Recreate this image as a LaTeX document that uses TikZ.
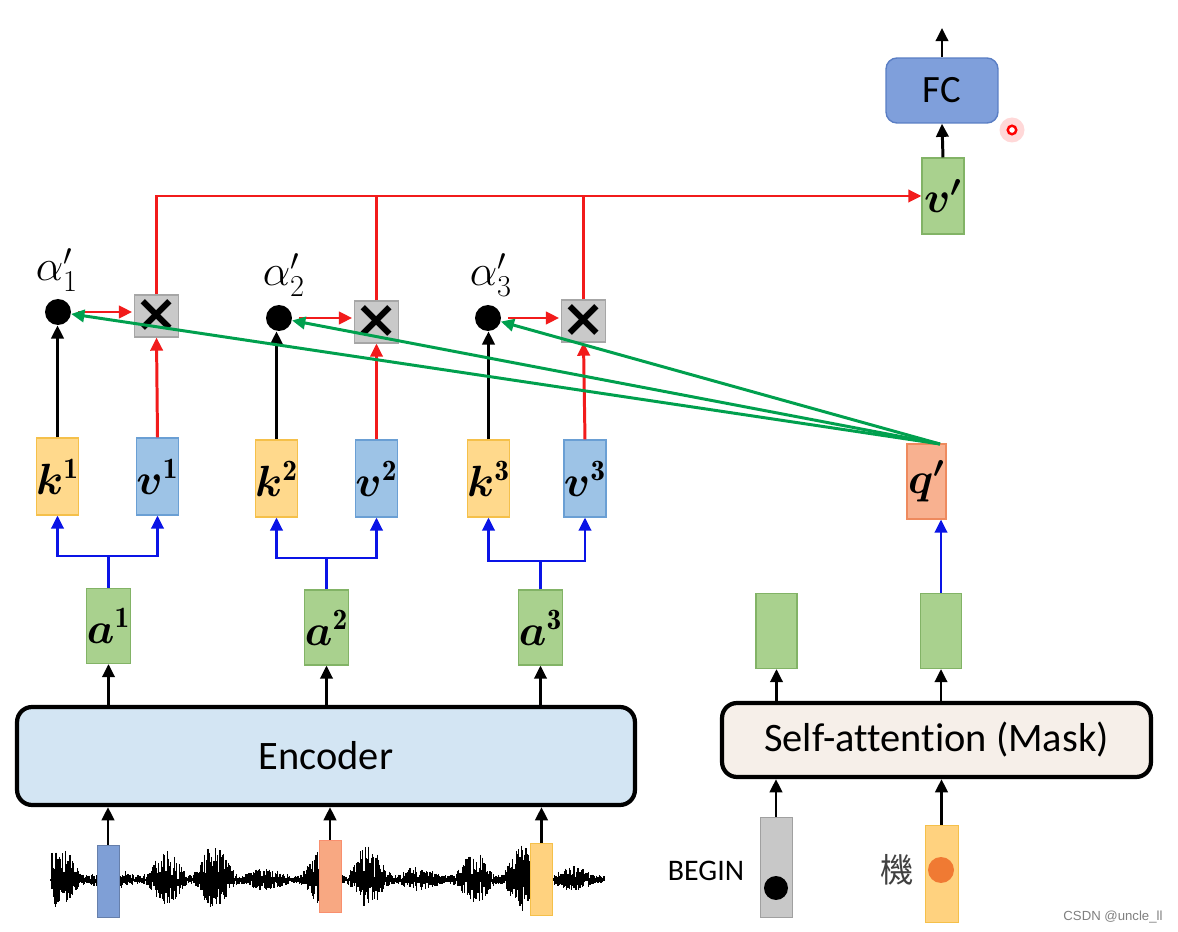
\documentclass[tikz,border=0pt]{standalone}
\usepackage{amsmath,bm}
\usepackage{fontspec}
\newfontfamily\calfont{Carlito}[Ligatures=NoCommon]
\newfontfamily\cjkfont{Noto Sans CJK TC}
\newfontfamily\wmfont{Liberation Sans}
\newfontfamily\djfont{DejaVu Sans}
\usetikzlibrary{arrows.meta,calc}
\definecolor{gfill}{HTML}{A9D18E}\definecolor{gdraw}{HTML}{82B366}
\definecolor{kfill}{HTML}{FFD98C}\definecolor{kdraw}{HTML}{F5C04A}
\definecolor{vfill}{HTML}{9DC3E6}\definecolor{vdraw}{HTML}{6A9FD4}
\definecolor{qfill}{HTML}{F8B190}\definecolor{qdraw}{HTML}{EE8A5E}
\definecolor{xfill}{HTML}{C9C9C9}\definecolor{xdraw}{HTML}{A6A6A6}
\definecolor{fcfill}{HTML}{7F9FDB}\definecolor{fcdraw}{HTML}{5A7EC4}
\definecolor{encfill}{HTML}{D3E5F3}\definecolor{safill}{HTML}{F6EFE9}
\definecolor{myred}{HTML}{F21B1B}\definecolor{mygreen}{HTML}{00A04E}\definecolor{myblue}{HTML}{0A14E6}
\definecolor{wbblue}{HTML}{7F9FD6}\definecolor{wborange}{HTML}{F8A882}\definecolor{wbyellow}{HTML}{FFD27F}
\definecolor{begray}{HTML}{C8C8C8}\definecolor{odot}{HTML}{F07A33}
\newcommand\lab[2]{\fontsize{24}{26}\selectfont$\boldsymbol{#1}^{\mathbf{#2}}$}
\newcommand\labp[1]{\fontsize{24}{26}\selectfont$\boldsymbol{#1'}$}
\newcommand\alab[1]{\fontsize{23}{25}\selectfont$\alpha'_{#1}$}
\newcommand\mult{\djfont\bfseries\fontsize{30}{30}\selectfont ×}
\tikzset{
  vec/.style={draw, inner sep=0pt, minimum width=0.82cm, minimum height=1.54cm, line width=0.6pt},
  kbox/.style={vec, fill=kfill, draw=kdraw},
  vbox/.style={vec, fill=vfill, draw=vdraw},
  gbox/.style={vec, fill=gfill, draw=gdraw, minimum height=1.5cm},
  qbox/.style={vec, fill=qfill, draw=qdraw, minimum width=0.78cm, minimum height=1.5cm},
  xbox/.style={draw=xdraw, fill=xfill, line width=0.6pt, inner sep=0pt, minimum width=0.86cm, minimum height=0.84cm},
  dotnode/.style={circle, fill=black, inner sep=0pt, minimum size=0.52cm},
  wbar/.style={draw, inner sep=0pt, minimum width=0.44cm, minimum height=1.44cm, line width=0.5pt},
  bigbox/.style={draw=black, line width=2.4pt, rounded corners=0.3cm, inner sep=0pt},
  arr/.style={line width=1.7pt, -{Triangle[length=7.5pt,width=7pt]}},
  blk/.style={arr, black},
  redarr/.style={arr, myred},
  redline/.style={line width=1.7pt, myred},
  bluearr/.style={arr, myblue},
  blueline/.style={line width=1.7pt, myblue},
  grnarr/.style={arr, mygreen},
}
\begin{document}
\begin{tikzpicture}[x=0.02cm, y=-0.02cm]
\fill[white] (0,0) rectangle (1178,932);
\useasboundingbox (0,0) rectangle (1178,932);

% waveform
\pgfmathsetseed{7}
\draw[line width=0.9pt] (50,880) -- (605,880);
\foreach \i in {0,...,460} {
  \pgfmathsetmacro\xx{52+1.2*\i}
  \pgfmathsetmacro\env{5+36*(0.5+0.5*sin(\xx*7+20))*(0.6+0.4*sin(\xx*2.3))}
  \pgfmathsetmacro\hu{\env*sqrt(rnd)}
  \pgfmathsetmacro\hd{0.8*\env*sqrt(rnd)}
  \draw[line width=0.6pt] (\xx,880-\hu) -- (\xx,880+\hd);
}
\node[wbar, fill=wbblue, draw=wbblue!80!black] (wb1) at (108,881) {};
\node[wbar, fill=wborange, draw=wborange!85!red] (wb2) at (330,876) {};
\node[wbar, fill=wbyellow, draw=kdraw] (wb3) at (541.5,879) {};

% encoder
\node[bigbox, fill=encfill, minimum width=12.36cm, minimum height=1.96cm] (enc) at (326,756) {\calfont\fontsize{23}{26}\selectfont Encoder};
\foreach \w in {wb1,wb2,wb3} \draw[blk] (\w.north) -- (\w.north |- enc.south);

% a boxes
\node[gbox] (a1) at (108.5,626) {\lab{a}{1}};
\node[gbox] (a2) at (326.5,627.5) {\lab{a}{2}};
\node[gbox] (a3) at (540.5,627.5) {\lab{a}{3}};
\foreach \a in {a1,a2,a3} \draw[blk] (\a.south |- enc.north) -- (\a.south);

% k, v boxes
\node[kbox] (k1) at (57.5,476.5) {\lab{k}{1}};
\node[vbox] (v1) at (157.5,476.5) {\lab{v}{1}};
\node[kbox] (k2) at (276.5,478.5) {\lab{k}{2}};
\node[vbox] (v2) at (376.5,478.5) {\lab{v}{2}};
\node[kbox] (k3) at (488.5,478.5) {\lab{k}{3}};
\node[vbox] (v3) at (585,478.5) {\lab{v}{3}};

% blue branches
\coordinate (b1) at (108.5,556);
\coordinate (b2) at (326.5,558);
\coordinate (b3) at (540.5,561);
\foreach \n in {1,2,3} {
  \draw[blueline] (a\n.north) -- (b\n);
  \draw[bluearr] (b\n) -| (k\n.south);
  \draw[bluearr] (b\n) -| (v\n.south);
}

% dots and multipliers
\node[dotnode] (d1) at (58,312) {};
\node[dotnode] (d2) at (279,318) {};
\node[dotnode] (d3) at (488,318) {};
\node (al1) at (57,270) {\alab{1}};
\node (al2) at (284,275) {\alab{2}};
\node (al3) at (491,275) {\alab{3}};
\node[xbox] (m1) at (156.5,316) {\mult};
\node[xbox] (m2) at (376.5,322) {\mult};
\node[xbox] (m3) at (583.5,321) {\mult};
\foreach \n in {1,2,3} {
  \draw[blk] (k\n.north) -- (k\n.north |- d\n.south);
  \draw[redarr] (v\n.north) -- (m\n.south);
  \draw[redarr, shorten <=4pt, shorten >=1pt] (d\n.east) -- (d\n.east -| m\n.west);
}

% v' and FC
\node[gbox, minimum width=0.84cm, minimum height=1.52cm] (vp) at (943,196) {\labp{v}};
\node[draw=fcdraw, fill=fcfill, line width=0.8pt, rounded corners=0.22cm, minimum width=2.24cm, minimum height=1.3cm] (fc) at (942,90.5) {\calfont\fontsize{22}{24}\selectfont FC};
\coordinate (out) at (942,28);
\draw[blk] (vp.north) -- (fc.south);
\draw[blk] (fc.north) -- (out);
\draw[redarr] (m1.north) |- (vp.west);
\draw[redline] (m2.north) -- (m2.north |- vp.west);
\draw[redline] (m3.north) -- (m3.north |- vp.west);

% laser pointer
\node[circle, fill=red!25, opacity=0.6, inner sep=0pt, minimum size=0.5cm] (glow) at (1012,130) {};
\node[circle, draw=red, fill=white, line width=1.4pt, inner sep=0pt, minimum size=0.17cm] (laser) at (1012,130) {};

% decoder side
\node[bigbox, fill=safill, minimum width=8.58cm, minimum height=1.48cm] (sa) at (936.5,740) {\calfont\fontsize{23}{26}\selectfont Self-attention (Mask)};
\node[gbox] (g1) at (776.5,631) {};
\node[gbox] (g2) at (941,631) {};
\node[qbox] (qp) at (926.5,481.5) {\labp{q}};
\draw[blk] (g1.south |- sa.north) -- (g1.south);
\draw[blk] (g2.south |- sa.north) -- (g2.south);
\draw[bluearr] (g2.north) -- (g2.north |- qp.south);

\coordinate (qs) at (940,444);
\foreach \n in {1,2,3} \draw[grnarr] (qs) -- (d\n);

\node[draw=begray!80!black, fill=begray, line width=0.5pt, inner sep=0pt, minimum width=0.64cm, minimum height=2cm] (bg) at (776,867) {};
\node[dotnode, minimum size=0.48cm] (bdot) at (776,888) {};
\node[draw=kdraw, fill=wbyellow, line width=0.5pt, inner sep=0pt, minimum width=0.66cm, minimum height=1.94cm] (jb) at (941.5,873.5) {};
\node[circle, fill=odot, inner sep=0pt, minimum size=0.52cm] (odt) at (941,870) {};
\draw[blk] (bg.north) -- (bg.north |- sa.south);
\draw[blk] (jb.north) -- (jb.north |- sa.south);
\node (begin) at (706,871) {\calfont\fontsize{17}{20}\selectfont BEGIN};
\node[text=black!75] (ji) at (897,870) {\cjkfont\fontsize{19}{22}\selectfont 機};
\node[text=black!50] (wm) at (1113,917) {\wmfont\fontsize{7.5}{9}\selectfont CSDN @uncle\_ll};
\end{tikzpicture}
\end{document}
